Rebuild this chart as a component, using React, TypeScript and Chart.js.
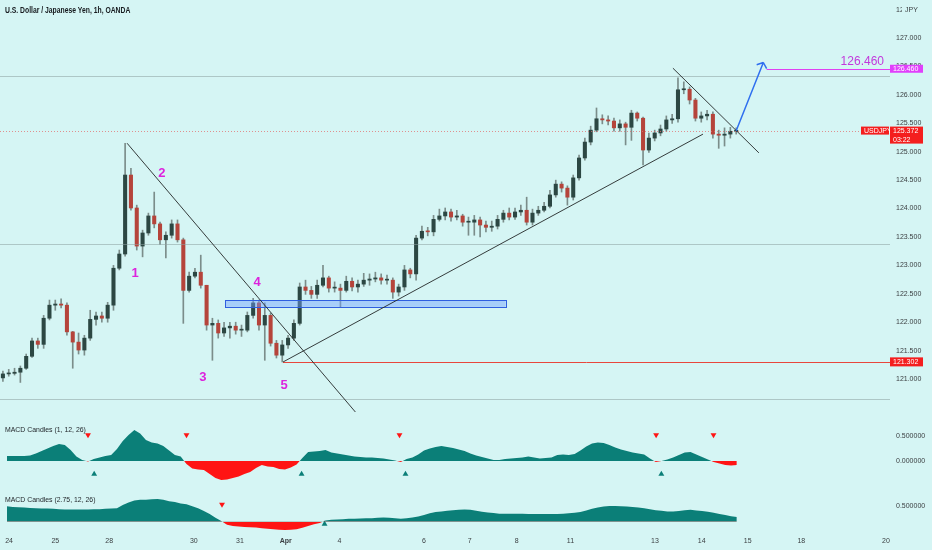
import React, { useEffect, useRef } from 'react';
import { Chart, registerables } from 'chart.js';

Chart.register(...registerables);

// ---------------- data ----------------
const BAR_HOURS = 3; // each candle = 3 hourly bars
const firstOpen = 121.02;
const closes = [
  121.09, 121.1, 121.12, 121.19, 121.4, 121.67, 121.61, 122.07, 122.3, 122.32,
  122.3, 121.83, 121.65, 121.51, 121.72, 122.05, 122.11, 122.07, 122.3, 122.95,
  123.2, 124.59, 124.01, 123.34, 123.57, 123.87, 123.73, 123.45, 123.53, 123.73,
  123.45, 122.56, 122.81, 122.88, 122.65, 121.95, 121.98, 121.81, 121.9, 121.93,
  121.86, 121.86, 122.12, 122.34, 121.95, 122.12, 121.63, 121.42, 121.6, 121.72,
  121.98, 122.62, 122.56, 122.49, 122.65, 122.78, 122.6, 122.6, 122.56, 122.72,
  122.62, 122.67, 122.74, 122.76, 122.78, 122.74, 122.74, 122.53, 122.62, 122.92,
  122.85, 123.48, 123.6, 123.59, 123.81, 123.87, 123.94, 123.85, 123.87, 123.76,
  123.76, 123.8, 123.71, 123.67, 123.69, 123.81, 123.92, 123.85, 123.94, 123.97,
  123.76, 123.92, 123.97, 124.04, 124.24, 124.43, 124.36, 124.2, 124.54, 124.89,
  125.17, 125.38, 125.58, 125.56, 125.54, 125.42, 125.49, 125.43, 125.68, 125.59,
  125.03, 125.24, 125.33, 125.4, 125.56, 125.58, 126.09, 126.1, 125.91, 125.59,
  125.63, 125.66, 125.31, 125.29, 125.31, 125.36, 125.37,
];
const highs = [
  121.14, 121.17, 121.19, 121.23, 121.44, 121.72, 121.72, 122.12, 122.39, 122.39,
  122.41, 122.34, 121.84, 121.81, 121.77, 122.21, 122.18, 122.18, 122.35, 123.0,
  123.27, 125.15, 124.71, 124.06, 123.62, 123.92, 124.29, 123.76, 123.59, 123.8,
  123.8, 123.48, 122.88, 122.95, 123.18, 122.65, 122.07, 122.04, 122.0, 122.0,
  122.0, 121.95, 122.18, 122.42, 122.39, 122.34, 122.16, 121.68, 121.68, 121.77,
  122.04, 122.69, 122.74, 122.63, 122.74, 123.0, 122.81, 122.71, 122.67, 122.81,
  122.78, 122.74, 122.86, 122.85, 122.88, 122.85, 122.83, 122.78, 122.67, 123.0,
  122.95, 123.53, 123.69, 123.67, 123.88, 123.99, 124.01, 123.99, 123.97, 123.9,
  123.85, 123.88, 123.85, 123.78, 123.78, 123.88, 123.97, 124.01, 124.01, 124.06,
  124.2, 123.99, 124.04, 124.11, 124.32, 124.5, 124.47, 124.4, 124.59, 124.94,
  125.24, 125.45, 125.77, 125.65, 125.63, 125.59, 125.56, 125.52, 125.73, 125.7,
  125.61, 125.33, 125.38, 125.47, 125.63, 125.66, 126.3, 126.23, 126.14, 125.94,
  125.7, 125.73, 125.7, 125.38, 125.42, 125.43, 125.42,
];
const lows = [
  120.96, 121.05, 121.07, 120.94, 121.17, 121.38, 121.54, 121.54, 122.04, 122.21,
  122.25, 121.77, 121.19, 121.44, 121.42, 121.68, 121.95, 122.0, 122.0, 122.21,
  122.92, 123.16, 123.97, 123.27, 123.15, 123.53, 123.66, 123.37, 123.13, 123.48,
  123.41, 121.98, 122.53, 122.78, 122.6, 121.86, 121.33, 121.72, 121.75, 121.72,
  121.79, 121.75, 121.83, 122.07, 121.86, 121.33, 121.58, 121.37, 121.3, 121.54,
  121.68, 121.95, 122.49, 122.42, 122.42, 122.62, 122.53, 122.53, 122.27, 122.53,
  122.55, 122.53, 122.63, 122.65, 122.71, 122.67, 122.67, 122.42, 122.46, 122.56,
  122.78, 122.74, 123.45, 123.52, 123.52, 123.78, 123.8, 123.78, 123.8, 123.69,
  123.53, 123.53, 123.5, 123.59, 123.6, 123.64, 123.76, 123.8, 123.81, 123.88,
  123.71, 123.71, 123.88, 123.94, 124.01, 124.2, 124.29, 124.06, 124.15, 124.5,
  124.85, 125.12, 125.35, 125.49, 125.47, 125.36, 125.36, 125.12, 125.2, 125.54,
  124.77, 124.99, 125.19, 125.28, 125.36, 125.5, 125.52, 126.02, 125.84, 125.54,
  125.52, 125.56, 125.24, 125.06, 125.1, 125.24, 125.31,
];
const macdFast = [
  0.1, 0.1, 0.1, 0.1, 0.11, 0.15, 0.2, 0.25, 0.3, 0.34,
  0.32, 0.22, 0.09, 0.02, -0.01, 0.04, 0.07, 0.1, 0.12, 0.24,
  0.4, 0.52, 0.62, 0.55, 0.42, 0.37, 0.35, 0.3, 0.21, 0.12,
  0.09, -0.06, -0.15, -0.17, -0.18, -0.26, -0.34, -0.38, -0.37, -0.34,
  -0.31, -0.26, -0.22, -0.14, -0.08, -0.11, -0.12, -0.16, -0.17, -0.13,
  -0.07, 0.06, 0.18, 0.19, 0.2, 0.22, 0.17, 0.15, 0.13, 0.11,
  0.09, 0.08, 0.07, 0.07, 0.06, 0.05, 0.03, 0.01, -0.02, 0.04,
  0.07, 0.13, 0.21, 0.25, 0.28, 0.3, 0.28, 0.26, 0.23, 0.2,
  0.15, 0.11, 0.08, 0.05, 0.02, 0.02, 0.04, 0.05, 0.06, 0.07,
  0.09, 0.07, 0.05, 0.06, 0.07, 0.12, 0.13, 0.12, 0.14, 0.21,
  0.29, 0.35, 0.37, 0.36, 0.32, 0.27, 0.23, 0.2, 0.17, 0.15,
  0.13, 0.05, -0.02, 0.0, 0.03, 0.07, 0.12, 0.17, 0.18, 0.13,
  0.08, 0.03, -0.02, -0.05, -0.08, -0.09, -0.08,
];
const macdSlow = [
  0.48, 0.46, 0.45, 0.44, 0.43, 0.42, 0.41, 0.41, 0.4, 0.39,
  0.38, 0.38, 0.38, 0.38, 0.38, 0.39, 0.39, 0.4, 0.41, 0.42,
  0.52, 0.6, 0.66, 0.68, 0.68, 0.7, 0.71, 0.68, 0.64, 0.61,
  0.57, 0.54, 0.48, 0.42, 0.33, 0.24, 0.12, 0.02, -0.09, -0.13,
  -0.15, -0.16, -0.17, -0.18, -0.2, -0.22, -0.23, -0.25, -0.26, -0.25,
  -0.23, -0.19, -0.13, -0.08, -0.04, 0.04, 0.06, 0.07, 0.08, 0.09,
  0.09, 0.1, 0.11, 0.11, 0.12, 0.13, 0.12, 0.11, 0.09, 0.11,
  0.13, 0.16, 0.21, 0.26, 0.3, 0.32, 0.34, 0.36, 0.37, 0.38,
  0.37, 0.34, 0.31, 0.29, 0.27, 0.25, 0.25, 0.25, 0.25, 0.25,
  0.24, 0.24, 0.24, 0.24, 0.24, 0.24, 0.25, 0.26, 0.28, 0.3,
  0.35, 0.4, 0.44, 0.47, 0.49, 0.49, 0.48, 0.47, 0.46, 0.44,
  0.42, 0.39, 0.36, 0.34, 0.32, 0.32, 0.33, 0.36, 0.37, 0.35,
  0.33, 0.31, 0.28, 0.24, 0.21, 0.17, 0.15,
];
// signal markers (hour position, indicator value)
const fastSellHours = [43.5, 94.5, 204.8, 337.7, 367.4];
const fastSellLevels = [0.52, 0.52, 0.52, 0.52, 0.52];
const fastBuyHours = [46.7, 154.1, 207.9, 340.4];
const fastBuyLevels = [-0.26, -0.26, -0.26, -0.26];
const slowSellHours = [112.9];
const slowSellLevels = [0.54];
const slowBuyHours = [166.0];
const slowBuyLevels = [-0.07];

const timeTickHours = [2.6, 26.6, 54.5, 98.3, 122.2, 145.9, 173.7, 217.5, 241.2, 265.5, 293.3, 337.1, 361.3, 385.1, 412.9, 456.7];
const timeTickLabels = ['24', '25', '28', '30', '31', 'Apr', '4', '6', '7', '8', '11', '13', '14', '15', '18', '20'];
const priceTicks = [121, 121.5, 122, 122.5, 123, 123.5, 124, 124.5, 125, 125.5, 126, 126.5, 127, 127.5];
const fastTicks = [0, 0.5];
const slowTicks = [0.5];

// drawings (hour, price)
const levelLines = [126.33, 123.37, 120.65];
const lastPrice = 125.372;
const lastTime = '03:22';
const supportLevel = 121.302;
const supportStartHour = 145.9;
const targetLevel = 126.46;
const targetStartHour = 395.2;
const downTrend = [[65.5, 125.15], [183.2, 120.42]];
const upTrend = [[145.9, 121.3], [362.4, 125.31]];
const wedgeTop = [[346.9, 126.47], [391.2, 124.98]];
const arrowPath = [[379.5, 125.37], [393.5, 126.57]];
const zoneBox = [[116.0, 122.39], [260.7, 122.27]];
const waveLabels = ['1', '2', '3', '4', '5'];
const waveHours = [69.6, 83.5, 104.6, 132.5, 146.4];
const wavePrices = [122.85, 124.61, 121.02, 122.7, 120.89];

// ---------------- style ----------------
const BG = '#d5f5f4';
const SANS = "'Liberation Sans', Arial, sans-serif";
const AXIS_TEXT = '#3c4043';
const AXIS_W = 42;
const X_MAX = 458.8;
const UP = '#2c4743';
const DOWN = '#b5443b';
const WICK = '#7b8d8a';
const TEAL = '#0b7f78';
const RED = '#ff1414';
const MAGENTA = '#dd22dd';

const candleHours = closes.map((_, i) => BAR_HOURS * i + BAR_HOURS / 2);
const opens = closes.map((_, i) => (i === 0 ? firstOpen : closes[i - 1]));

function xAxis(show: boolean) {
  return {
    type: 'linear',
    min: 0,
    max: X_MAX,
    offset: false,
    display: show,
    position: 'bottom',
    grid: { display: false, drawTicks: true, tickLength: 5 },
    border: { display: false },
    ticks: {
      padding: 0,
      autoSkip: false,
      maxRotation: 0,
      color: AXIS_TEXT,
      font: (c: any) => ({ family: SANS, size: 7, weight: c.tick && c.tick.label === 'Apr' ? 'bold' : 'normal' }),
      callback: (_v: any, i: number) => timeTickLabels[i],
    },
    afterBuildTicks: (axis: any) => {
      axis.ticks = timeTickHours.map((v) => ({ value: v }));
    },
    afterFit: (axis: any) => {
      if (show) axis.height = 18;
      axis.paddingLeft = 0;
      axis.paddingRight = 0;
    },
  };
}

function yAxis(min: number, max: number, ticks: number[], digits: number) {
  return {
    type: 'linear',
    position: 'right',
    min,
    max,
    grid: { display: false, drawTicks: false },
    border: { display: false },
    ticks: {
      padding: 6,
      color: AXIS_TEXT,
      font: { family: SANS, size: 7 },
      callback: (v: any) => Number(v).toFixed(digits),
    },
    afterBuildTicks: (axis: any) => {
      axis.ticks = ticks.map((v) => ({ value: v }));
    },
    afterFit: (axis: any) => {
      axis.width = AXIS_W;
      axis.paddingTop = 0;
      axis.paddingBottom = 0;
    },
  };
}

function boxLabel(ctx: CanvasRenderingContext2D, x: number, y: number, w: number, h: number, color: string, lines: string[]) {
  ctx.fillStyle = color;
  ctx.fillRect(x, y, w, h);
  ctx.fillStyle = '#ffffff';
  ctx.font = `7px ${SANS}`;
  ctx.textBaseline = 'middle';
  ctx.textAlign = 'left';
  const lh = h / lines.length;
  lines.forEach((t, i) => ctx.fillText(t, x + 3, y + lh * i + lh / 2 + 0.5));
}

const drawingsPlugin = {
  id: 'drawings',
  afterDatasetsDraw(chart: any) {
    const { ctx, chartArea: a, scales } = chart;
    const px = (h: number) => scales.x.getPixelForValue(h);
    const py = (p: number) => scales.y.getPixelForValue(p);
    const seg = (p: number[][]) => {
      ctx.beginPath();
      ctx.moveTo(px(p[0][0]), py(p[0][1]));
      ctx.lineTo(px(p[1][0]), py(p[1][1]));
      ctx.stroke();
    };
    ctx.save();
    ctx.beginPath();
    ctx.rect(a.left, a.top, a.right - a.left, a.bottom - a.top);
    ctx.clip();

    ctx.lineWidth = 1;
    ctx.strokeStyle = 'rgba(140,160,160,0.55)';
    levelLines.forEach((lv) => {
      const yy = Math.round(py(lv)) + 0.5;
      ctx.beginPath();
      ctx.moveTo(a.left, yy);
      ctx.lineTo(a.right, yy);
      ctx.stroke();
    });

    // last price dotted line
    ctx.save();
    ctx.setLineDash([1, 2]);
    ctx.strokeStyle = 'rgba(225,110,110,0.75)';
    const ly = Math.round(py(lastPrice)) + 0.5;
    ctx.beginPath();
    ctx.moveTo(a.left, ly);
    ctx.lineTo(a.right, ly);
    ctx.stroke();
    ctx.restore();

    // support line
    ctx.strokeStyle = '#e8463c';
    const sy = Math.round(py(supportLevel)) + 0.5;
    ctx.beginPath();
    ctx.moveTo(px(supportStartHour), sy);
    ctx.lineTo(a.right, sy);
    ctx.stroke();

    // zone box
    const bx1 = px(zoneBox[0][0]);
    const bx2 = px(zoneBox[1][0]);
    const by1 = py(zoneBox[0][1]);
    const by2 = py(zoneBox[1][1]);
    ctx.fillStyle = 'rgba(110,160,255,0.45)';
    ctx.fillRect(bx1, by1, bx2 - bx1, by2 - by1);
    ctx.strokeStyle = '#2f5fe0';
    ctx.strokeRect(Math.round(bx1) + 0.5, Math.round(by1) + 0.5, Math.round(bx2 - bx1), Math.round(by2 - by1));

    // trend lines
    ctx.strokeStyle = 'rgba(35,40,40,0.9)';
    ctx.lineWidth = 1;
    seg(downTrend);
    seg(upTrend);
    seg(wedgeTop);

    // target line
    ctx.strokeStyle = '#e040f0';
    const ty = Math.round(py(targetLevel)) + 0.5;
    ctx.beginPath();
    ctx.moveTo(px(targetStartHour), ty);
    ctx.lineTo(a.right, ty);
    ctx.stroke();
    ctx.fillStyle = '#c238dc';
    ctx.font = `12px ${SANS}`;
    ctx.textAlign = 'right';
    ctx.textBaseline = 'alphabetic';
    ctx.fillText(targetLevel.toFixed(3), a.right - 6, ty - 5);

    // arrow
    const x1 = px(arrowPath[0][0]);
    const y1 = py(arrowPath[0][1]);
    const x2 = px(arrowPath[1][0]);
    const y2 = py(arrowPath[1][1]);
    ctx.strokeStyle = '#2f6fef';
    ctx.lineWidth = 1.5;
    ctx.beginPath();
    ctx.moveTo(x1, y1);
    ctx.lineTo(x2, y2);
    const ang = Math.atan2(y2 - y1, x2 - x1);
    [-1, 1].forEach((s) => {
      const a2 = ang + Math.PI + (s * 50 * Math.PI) / 180;
      ctx.moveTo(x2, y2);
      ctx.lineTo(x2 + 7 * Math.cos(a2), y2 + 7 * Math.sin(a2));
    });
    ctx.stroke();

    // wave labels
    ctx.fillStyle = MAGENTA;
    ctx.font = `bold 13px ${SANS}`;
    ctx.textAlign = 'center';
    ctx.textBaseline = 'middle';
    waveLabels.forEach((t, i) => ctx.fillText(t, px(waveHours[i]), py(wavePrices[i])));
    ctx.restore();
  },
  afterDraw(chart: any) {
    const { ctx, chartArea: a, scales } = chart;
    const py = (p: number) => scales.y.getPixelForValue(p);
    ctx.save();
    const ty = py(targetLevel);
    boxLabel(ctx, a.right, ty - 4, 33, 8, '#e040fb', [targetLevel.toFixed(3)]);
    const ly = py(lastPrice);
    boxLabel(ctx, a.right - 29, ly - 4, 28, 8, '#f41e1e', ['USDJPY']);
    boxLabel(ctx, a.right, ly - 4, 33, 17, '#f41e1e', [lastPrice.toFixed(3), lastTime]);
    const sy = py(supportLevel);
    boxLabel(ctx, a.right, sy - 4.5, 33, 9, '#f41e1e', [supportLevel.toFixed(3)]);
    // currency label over top tick
    ctx.fillStyle = BG;
    ctx.fillRect(a.right + 12, 2, 30, 14);
    ctx.fillStyle = AXIS_TEXT;
    ctx.font = `7px ${SANS}`;
    ctx.textAlign = 'left';
    ctx.textBaseline = 'middle';
    ctx.fillText('JPY', a.right + 15, py(127.5));
    ctx.restore();
  },
};

function mainConfig(): any {
  return {
    type: 'bar',
    data: {
      datasets: [
        {
          label: 'wick',
          data: candleHours.map((h, i) => ({ x: h, y: [lows[i], highs[i]] })),
          backgroundColor: WICK,
          barThickness: 1,
          grouped: false,
          order: 2,
        },
        {
          label: 'body',
          data: candleHours.map((h, i) => ({ x: h, y: [opens[i], closes[i]] })),
          backgroundColor: (c: any) => (closes[c.dataIndex] >= opens[c.dataIndex] ? UP : DOWN),
          barThickness: 3.4,
          minBarLength: 1,
          grouped: false,
          order: 1,
        },
      ],
    },
    options: {
      responsive: false,
      animation: false,
      events: [],
      layout: { padding: 0 },
      plugins: { legend: { display: false }, tooltip: { enabled: false } },
      scales: {
        x: xAxis(false),
        y: yAxis(120.42, 127.67, priceTicks, 3),
      },
    },
    plugins: [drawingsPlugin],
  };
}

function markerSet(hours: number[], levels: number[], color: string, rot: number) {
  return {
    type: 'line',
    data: hours.map((h, i) => ({ x: h, y: levels[i] })),
    showLine: false,
    pointStyle: 'triangle',
    pointRadius: 3.4,
    pointRotation: rot,
    pointBackgroundColor: color,
    pointBorderWidth: 0,
    pointBorderColor: color,
    fill: false,
  };
}

function macdConfig(values: number[], min: number, max: number, ticks: number[], showX: boolean, markers: any[]): any {
  return {
    type: 'line',
    data: {
      datasets: [
        {
          data: candleHours.map((h, i) => ({ x: h, y: values[i] })),
          borderColor: 'rgba(0,0,0,0)',
          borderWidth: 1,
          pointRadius: 0,
          tension: 0,
          fill: { target: 'origin', above: TEAL, below: RED },
        },
        ...markers,
      ],
    },
    options: {
      responsive: false,
      animation: false,
      events: [],
      layout: { padding: 0 },
      plugins: { legend: { display: false }, tooltip: { enabled: false } },
      scales: {
        x: xAxis(showX),
        y: yAxis(min, max, ticks, 6),
      },
    },
  };
}

const legendStyle: React.CSSProperties = {
  position: 'absolute',
  left: 5,
  fontFamily: SANS,
  fontSize: 7.5,
  lineHeight: '10px',
  color: '#1e2226',
  whiteSpace: 'nowrap',
  transformOrigin: 'left center',
  transform: 'scaleX(0.92)',
};

export default function App() {
  const mainRef = useRef<HTMLCanvasElement>(null);
  const fastRef = useRef<HTMLCanvasElement>(null);
  const slowRef = useRef<HTMLCanvasElement>(null);

  useEffect(() => {
    const charts = [
      new Chart(mainRef.current as HTMLCanvasElement, mainConfig()),
      new Chart(
        fastRef.current as HTMLCanvasElement,
        macdConfig(macdFast, -0.459, 0.898, fastTicks, false, [
          markerSet(fastSellHours, fastSellLevels, RED, 180),
          markerSet(fastBuyHours, fastBuyLevels, TEAL, 0),
        ])
      ),
      new Chart(
        slowRef.current as HTMLCanvasElement,
        macdConfig(macdSlow, -0.319, 0.924, slowTicks, true, [
          markerSet(slowSellHours, slowSellLevels, RED, 180),
          markerSet(slowBuyHours, slowBuyLevels, TEAL, 0),
        ])
      ),
    ];
    return () => charts.forEach((c) => c.destroy());
  }, []);

  return (
    <div style={{ position: 'fixed', left: 0, top: 0, width: 932, height: 550, background: BG, overflow: 'hidden' }}>
      <canvas ref={mainRef} width={932} height={412} style={{ position: 'absolute', left: 0, top: 0, width: 932, height: 412 }} />
      <canvas ref={fastRef} width={932} height={76} style={{ position: 'absolute', left: 0, top: 412, width: 932, height: 76 }} />
      <canvas ref={slowRef} width={932} height={62} style={{ position: 'absolute', left: 0, top: 488, width: 932, height: 62 }} />
      <div style={{ ...legendStyle, top: 5, fontSize: 8.5, fontWeight: 'bold', color: '#161a1e', transform: 'scaleX(0.8)' }}>
        U.S. Dollar / Japanese Yen, 1h, OANDA
      </div>
      <div style={{ ...legendStyle, top: 425 }}>MACD Candles (1, 12, 26)</div>
      <div style={{ ...legendStyle, top: 495 }}>MACD Candles (2.75, 12, 26)</div>
    </div>
  );
}
